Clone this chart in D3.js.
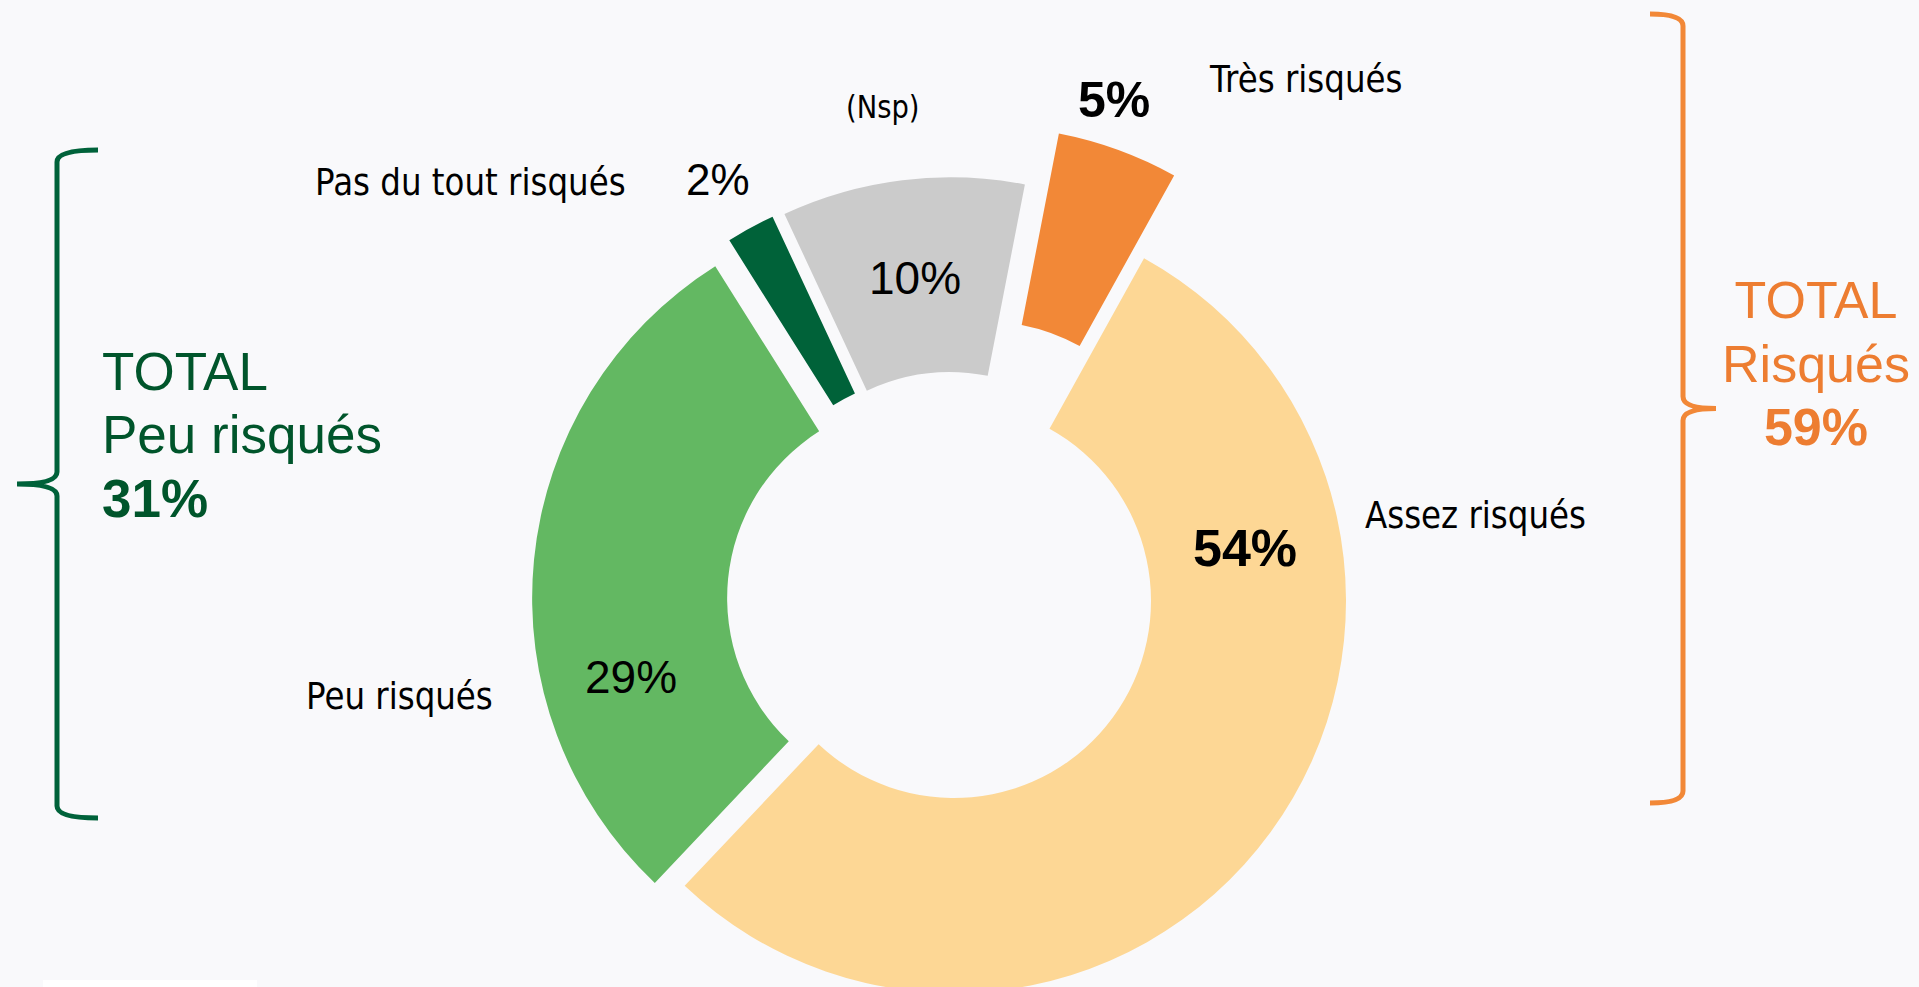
<!DOCTYPE html>
<html>
<head>
<meta charset="utf-8">
<script src="https://cdn.jsdelivr.net/npm/d3@7"></script>
<style>
  html, body { margin: 0; padding: 0; background: #f9f9fb; overflow: hidden; }
</style>
</head>
<body>
<div id="chart"></div>
<script>
// data
const categories = ["Très risqués", "Assez risqués", "Peu risqués", "Pas du tout risqués", "(Nsp)"];
const values = [5, 54, 29, 2, 10];
const colors = ["#f28837", "#fdd795", "#63b862", "#006239", "#cbcbcb"];
const groupLow = ["Peu risqués", "Pas du tout risqués"];
const groupHigh = ["Très risqués", "Assez risqués"];

const width = 1919, height = 987;

const svg = d3.select("#chart")
  .append("svg")
  .attr("width", width)
  .attr("height", height);

svg.append("rect")
  .attr("width", width)
  .attr("height", height)
  .attr("fill", "#f9f9fb");

// donut
const cx = 954, cy = 601;
const outerR = 392, innerR = 197;
const explode = { "Très risqués": 88, "Assez risqués": 0, "Peu risqués": 30, "Pas du tout risqués": 33, "(Nsp)": 32 };

const pie = d3.pie()
  .value(d => d.value)
  .sort(null)
  .startAngle(11 * Math.PI / 180)
  .endAngle(11 * Math.PI / 180 + 2 * Math.PI);

const arc = d3.arc().innerRadius(innerR).outerRadius(outerR);

const rows = categories.map((c, i) => ({ cat: c, value: values[i], color: colors[i] }));
const arcs = pie(rows);

const g = svg.append("g").attr("transform", `translate(${cx},${cy})`);

g.selectAll("path.slice")
  .data(arcs)
  .join("path")
  .attr("class", "slice")
  .attr("d", arc)
  .attr("fill", d => d.data.color)
  .attr("transform", d => {
    const mid = (d.startAngle + d.endAngle) / 2;
    const e = explode[d.data.cat];
    return `translate(${e * Math.sin(mid)},${-e * Math.cos(mid)})`;
  });

// labels (positions)
const labelFont = "'DejaVu Sans', Tahoma, Verdana, sans-serif";
const numFont = "'Liberation Sans', Arial, sans-serif";

const catPos = {
  "Très risqués": [1210, 92, 38],
  "Assez risqués": [1365, 528, 38],
  "Peu risqués": [306, 709, 38],
  "Pas du tout risqués": [315, 195, 38],
  "(Nsp)": [846, 118, 32]
};
const valPos = {
  "Très risqués": [1078, 117, 50, "bold"],
  "Assez risqués": [1193, 566, 52, "bold"],
  "Peu risqués": [585, 693, 46, "normal"],
  "Pas du tout risqués": [686, 195, 44, "normal"],
  "(Nsp)": [869, 294, 46, "normal"]
};

rows.forEach(r => {
  const p = catPos[r.cat];
  const t = svg.append("text")
    .attr("x", p[0]).attr("y", p[1])
    .attr("font-family", labelFont)
    .attr("font-size", p[2])
    .attr("fill", "#000")
    .text(r.cat);
  const len = t.node().getComputedTextLength();
  t.attr("textLength", len * 0.855).attr("lengthAdjust", "spacingAndGlyphs");

  const v = valPos[r.cat];
  svg.append("text")
    .attr("x", v[0]).attr("y", v[1])
    .attr("font-family", numFont)
    .attr("font-size", v[2])
    .attr("font-weight", v[3])
    .attr("fill", "#000")
    .text(r.value + "%");
});

// braces
function brace(x, top, bottom, hookX, tipX, color) {
  const mid = (top + bottom) / 2;
  const rr = 12;
  const p = d3.path();
  p.moveTo(hookX, top);
  p.quadraticCurveTo(x, top, x, top + rr);
  p.lineTo(x, mid - rr);
  p.quadraticCurveTo(x, mid, tipX, mid);
  p.quadraticCurveTo(x, mid, x, mid + rr);
  p.lineTo(x, bottom - rr);
  p.quadraticCurveTo(x, bottom, hookX, bottom);
  svg.append("path")
    .attr("d", p.toString())
    .attr("fill", "none")
    .attr("stroke", color)
    .attr("stroke-width", 5);
}

brace(57, 150, 818, 98, 17, "#00623a");
brace(1683, 14, 803, 1650, 1716, "#f28837");

const sumOf = list => d3.sum(list, c => values[categories.indexOf(c)]);

const lowTotal = svg.append("g").attr("fill", "#00552b").attr("font-family", numFont);
lowTotal.append("text").attr("x", 102).attr("y", 390).attr("font-size", 53).text("TOTAL");
lowTotal.append("text").attr("x", 102).attr("y", 453).attr("font-size", 53).text("Peu risqués");
lowTotal.append("text").attr("x", 102).attr("y", 517).attr("font-size", 53).attr("font-weight", "bold").text(sumOf(groupLow) + "%");

const highTotal = svg.append("g").attr("fill", "#ed7d31").attr("font-family", numFont).attr("text-anchor", "middle");
highTotal.append("text").attr("x", 1816).attr("y", 318).attr("font-size", 52).text("TOTAL");
highTotal.append("text").attr("x", 1816).attr("y", 382).attr("font-size", 52).text("Risqués");
highTotal.append("text").attr("x", 1816).attr("y", 445).attr("font-size", 52).attr("font-weight", "bold").text(sumOf(groupHigh) + "%");

// small white strip at the bottom left of the slide
svg.append("rect").attr("x", 43).attr("y", 980).attr("width", 214).attr("height", 7).attr("fill", "#ffffff");
</script>
</body>
</html>
